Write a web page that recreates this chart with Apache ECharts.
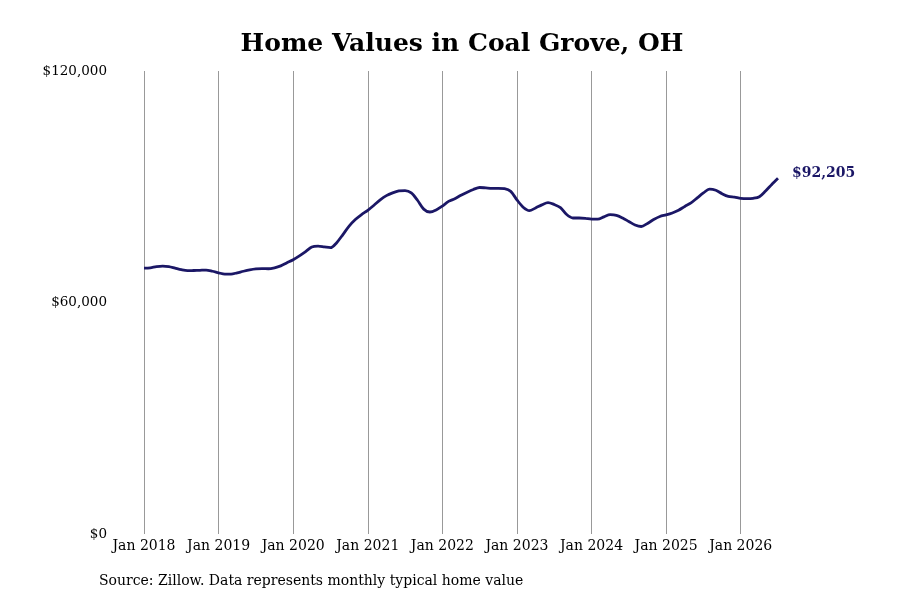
<!DOCTYPE html>
<html lang="en">
<head>
    <meta charset="UTF-8">
    <title>Home Values in Coal Grove, OH</title>
    <script src="https://cdn.jsdelivr.net/npm/echarts@6/dist/echarts.min.js"></script>
    <style>
        html, body { margin: 0; padding: 0; background: #fff; }
        #main { width: 900px; height: 600px; }
    </style>
</head>
<body>
<div id="main"></div>
<script>
    // months Jan 2018 .. Jul 2026
    var months = [];
    for (var y = 2018; y <= 2026; y++) {
        for (var m = 1; m <= 12; m++) {
            if (y === 2026 && m > 7) break;
            months.push(y + '-' + (m < 10 ? '0' + m : m));
        }
    }

    // typical home value
    var values2018 = [68900, 69000, 69300, 69450, 69300, 68900, 68500, 68250, 68300, 68350, 68400, 68100];
    var values2019 = [67700, 67350, 67350, 67700, 68100, 68450, 68700, 68800, 68750, 69000, 69500, 70300];
    var values2020 = [71100, 72100, 73200, 74400, 74600, 74400, 74200, 75500, 77600, 79800, 81500, 82800];
    var values2021 = [83900, 85200, 86600, 87700, 88400, 88900, 89000, 88400, 86500, 84200, 83450, 84000];
    var values2022 = [85000, 86200, 86900, 87800, 88600, 89300, 89800, 89700, 89600, 89600, 89500, 88800];
    var values2023 = [86600, 84700, 83800, 84500, 85300, 85900, 85400, 84600, 82800, 81900, 81900, 81800];
    var values2024 = [81600, 81600, 82200, 82750, 82600, 81900, 81000, 80100, 79700, 80500, 81500, 82300];
    var values2025 = [82700, 83200, 83900, 84900, 85800, 87100, 88400, 89400, 89100, 88200, 87500, 87300];
    var values2026 = [87000, 86900, 87000, 87400, 88900, 90600, 92205];

    var values = [].concat(values2018, values2019, values2020, values2021, values2022,
        values2023, values2024, values2025, values2026);

    var yTicks = [0, 60000, 120000];
    var lastLabel = '$92,205';

    var serif = '"DejaVu Serif", "Liberation Serif", serif';
    var navy = '#1b1766';

    var chart = echarts.init(document.getElementById('main'));

    var option = {
        animation: false,
        title: {
            text: 'Home Values in Coal Grove, OH',
            left: 457,
            top: 27,
            textAlign: 'center',
            textStyle: {
                fontFamily: serif,
                fontWeight: 'bold',
                fontSize: 25,
                color: '#000'
            }
        },
        graphic: [{
            type: 'text',
            left: 99,
            top: 574,
            style: {
                text: 'Source: Zillow. Data represents monthly typical home value',
                font: '14px ' + serif,
                fill: '#000'
            }
        }],
        grid: {
            left: 144,
            right: 122,
            top: 71,
            bottom: 66,
            containLabel: false
        },
        xAxis: {
            type: 'category',
            boundaryGap: false,
            data: months,
            axisLine: { show: false },
            axisTick: { show: false },
            axisLabel: {
                interval: function (i, v) { return v.slice(5) === '01'; },
                formatter: function (v) { return 'Jan ' + v.slice(0, 4); },
                fontFamily: serif,
                fontSize: 14,
                color: '#000',
                margin: 5
            },
            splitLine: {
                show: true,
                interval: function (i, v) { return v.slice(5) === '01'; },
                lineStyle: { color: '#999', width: 1 }
            }
        },
        yAxis: {
            type: 'value',
            min: yTicks[0],
            max: yTicks[yTicks.length - 1],
            interval: yTicks[1] - yTicks[0],
            axisLine: { show: false },
            axisTick: { show: false },
            splitLine: { show: false },
            axisLabel: {
                formatter: function (v) { return '$' + v.toLocaleString('en-US'); },
                fontFamily: serif,
                fontSize: 13.5,
                color: '#000',
                margin: 37
            }
        },
        series: [{
            type: 'line',
            data: values,
            smooth: 0.3,
            symbol: 'none',
            lineStyle: { color: navy, width: 2.8 },
            endLabel: {
                show: true,
                formatter: function () { return lastLabel; },
                fontFamily: serif,
                fontWeight: 'bold',
                fontSize: 14,
                color: navy,
                distance: 14,
                offset: [0, -5]
            }
        }]
    };

    chart.setOption(option);
</script>
</body>
</html>
